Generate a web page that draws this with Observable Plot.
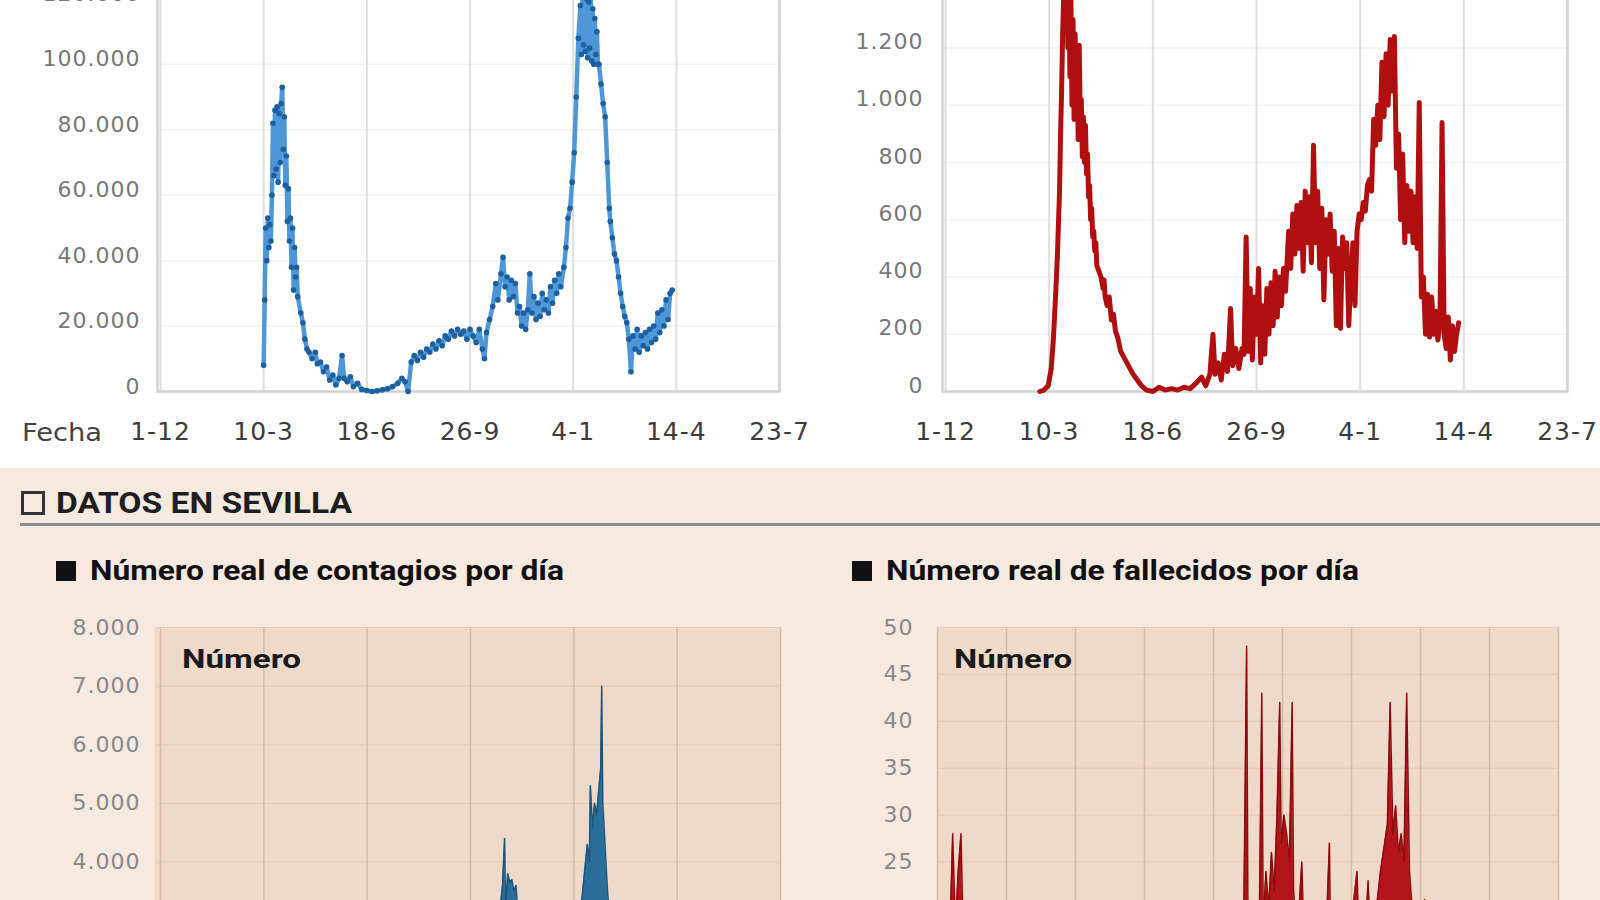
<!DOCTYPE html>
<html><head><meta charset="utf-8">
<script src="https://cdn.jsdelivr.net/npm/d3@7"></script>
<script src="https://cdn.jsdelivr.net/npm/@observablehq/plot@0.6"></script>
<style>
html,body{margin:0;padding:0;}
body{width:1600px;height:900px;overflow:hidden;background:#fff;position:relative;font-family:"DejaVu Sans",sans-serif;}
#sev{position:absolute;left:0;top:468px;width:1600px;height:432px;background:#f5e9e0;}
.lbl{position:absolute;white-space:nowrap;transform-origin:0 50%;line-height:1;}
.chart{position:absolute;}
.chart svg text{letter-spacing:1px;}
.box{position:absolute;box-sizing:border-box;}
</style></head><body>
<div id="sev"></div>
<div id="tl" class="chart" style="left:0;top:-80px"></div>
<div id="tr" class="chart" style="left:800px;top:-79px"></div>
<div id="bl" class="chart" style="left:0;top:600px"></div>
<div id="br" class="chart" style="left:800px;top:600px"></div>

<div class="lbl" data-w="80" data-cy="432" style="left:22px;font-size:25px;color:#444;">Fecha</div>
<div class="box" style="left:21px;top:491px;width:24px;height:24px;border:3px solid #333;"></div>
<div class="lbl" data-w="296" data-cy="502" style="left:56px;font:700 30px Roboto,sans-serif;color:#1e1e1e;">DATOS EN SEVILLA</div>
<div class="box" style="left:20px;top:523px;width:1580px;height:3px;background:#8c8c8c;"></div>
<div class="box" style="left:56px;top:561px;width:20px;height:20px;background:#111;"></div>
<div class="lbl" data-w="474" data-cy="571" style="left:90px;font:700 27px Roboto,sans-serif;color:#111;">Número real de contagios por día</div>
<div class="box" style="left:852px;top:561px;width:20px;height:20px;background:#111;"></div>
<div class="lbl" data-w="473" data-cy="571" style="left:886px;font:700 27px Roboto,sans-serif;color:#111;">Número real de fallecidos por día</div>
<div class="lbl" data-w="119" data-cy="659" style="left:182px;font:700 25px Roboto,sans-serif;color:#1a1a1a;">Número</div>
<div class="lbl" data-w="118" data-cy="659" style="left:954px;font:700 25px Roboto,sans-serif;color:#1a1a1a;">Número</div>

<script>
// ---------- DATA ----------
const xTickDates = ["2019-12-01","2020-03-10","2020-06-18","2020-09-26","2021-01-04","2021-04-14","2021-07-23"];
const sevMuertesTicks = ["2020-03-16","2020-05-05","2020-06-24","2020-08-13","2020-10-02","2020-11-21","2021-01-10","2021-03-01","2021-04-20","2021-06-09"];
const yTicksEspContagios = [0,20000,40000,60000,80000,100000,120000];
const yTicksEspMuertes = [0,200,400,600,800,1000,1200];
const yTicksSevContagios = [4000,5000,6000,7000,8000];
const yTicksSevMuertes = [20,25,30,35,40,45,50];

const espanaContagios = [
["2020-03-10",8000],["2020-03-11",28000],["2020-03-12",50000],["2020-03-13",40000],["2020-03-14",53000],["2020-03-15",44000],
["2020-03-16",51000],["2020-03-17",46000],["2020-03-18",60000],["2020-03-19",82000],["2020-03-20",66000],["2020-03-21",86000],
["2020-03-22",68000],["2020-03-23",87000],["2020-03-24",64000],["2020-03-25",85000],["2020-03-26",70000],["2020-03-27",88000],
["2020-03-28",93000],["2020-03-29",74000],["2020-03-30",84000],["2020-03-31",63000],["2020-04-01",72000],["2020-04-02",52000],
["2020-04-03",62000],["2020-04-04",46000],["2020-04-05",53000],["2020-04-06",38000],["2020-04-07",50000],["2020-04-08",31000],
["2020-04-09",44000],["2020-04-10",35000],["2020-04-11",38000],["2020-04-12",29000],["2020-04-15",24000],["2020-04-17",21000],
["2020-04-19",16000],["2020-04-21",13000],["2020-04-23",12000],["2020-04-26",10000],["2020-04-29",12000],["2020-05-01",8500],
["2020-05-04",9000],["2020-05-07",6000],["2020-05-10",7500],["2020-05-13",3500],["2020-05-16",5000],["2020-05-19",2000],
["2020-05-22",4000],["2020-05-25",11000],["2020-05-27",4000],["2020-05-30",3000],["2020-06-02",4500],["2020-06-05",1500],
["2020-06-09",2500],["2020-06-13",600],["2020-06-18",300],["2020-06-23",0],["2020-06-28",200],["2020-07-03",500],
["2020-07-08",800],["2020-07-13",1500],["2020-07-18",2500],["2020-07-22",4000],["2020-07-25",3000],["2020-07-28",0],
["2020-07-31",9000],["2020-08-03",11000],["2020-08-06",9500],["2020-08-09",12000],["2020-08-12",10500],["2020-08-15",13000],
["2020-08-18",12000],["2020-08-21",14500],["2020-08-24",13000],["2020-08-27",15500],["2020-08-30",14000],["2020-09-02",17000],
["2020-09-05",16000],["2020-09-08",18500],["2020-09-11",17000],["2020-09-14",19000],["2020-09-17",17500],["2020-09-20",18500],
["2020-09-23",16000],["2020-09-26",19000],["2020-09-29",17000],["2020-10-02",15000],["2020-10-05",19000],["2020-10-08",13000],
["2020-10-10",10000],["2020-10-12",18000],["2020-10-15",22000],["2020-10-18",26000],["2020-10-21",33000],["2020-10-23",28000],
["2020-10-26",36000],["2020-10-28",41000],["2020-10-30",32000],["2020-11-01",35000],["2020-11-03",28000],["2020-11-05",34000],
["2020-11-07",29000],["2020-11-09",33000],["2020-11-11",24000],["2020-11-13",26000],["2020-11-15",20000],["2020-11-17",24000],
["2020-11-19",19000],["2020-11-21",25000],["2020-11-23",36000],["2020-11-25",24000],["2020-11-27",29000],["2020-11-29",22000],
["2020-12-01",27000],["2020-12-03",23000],["2020-12-05",30000],["2020-12-07",25000],["2020-12-09",28000],["2020-12-11",24000],
["2020-12-13",32000],["2020-12-15",27000],["2020-12-17",34000],["2020-12-19",30000],["2020-12-21",36000],["2020-12-23",32000],
["2020-12-26",38000],["2020-12-28",44000],["2020-12-30",53000],["2021-01-01",56000],["2021-01-03",64000],["2021-01-05",73000],
["2021-01-07",90000],["2021-01-09",108000],["2021-01-11",118000],["2021-01-12",103000],["2021-01-13",121000],["2021-01-14",106000],
["2021-01-15",123000],["2021-01-16",104000],["2021-01-17",120000],["2021-01-18",102000],["2021-01-19",119000],["2021-01-20",105000],
["2021-01-21",122000],["2021-01-22",101000],["2021-01-23",117000],["2021-01-24",100000],["2021-01-25",114000],["2021-01-26",103000],
["2021-01-27",110000],["2021-01-28",100000],["2021-01-29",100000],["2021-01-31",94000],["2021-02-02",88000],["2021-02-04",84000],
["2021-02-06",70000],["2021-02-08",56000],["2021-02-09",52000],["2021-02-11",47000],["2021-02-13",42000],["2021-02-15",40000],
["2021-02-17",35000],["2021-02-19",30000],["2021-02-21",26000],["2021-02-23",23000],["2021-02-25",21000],["2021-02-27",16000],
["2021-03-01",6000],["2021-03-03",17000],["2021-03-05",13000],["2021-03-07",19000],["2021-03-09",12000],["2021-03-11",17000],
["2021-03-13",14000],["2021-03-15",18000],["2021-03-17",13000],["2021-03-19",19000],["2021-03-21",15000],["2021-03-23",20000],
["2021-03-25",16000],["2021-03-27",24000],["2021-03-29",18000],["2021-03-31",25000],["2021-04-02",20000],["2021-04-04",28000],
["2021-04-06",22000],["2021-04-08",30000],["2021-04-10",31000]
];

const espanaMuertes = [
["2020-03-01",0],["2020-03-05",5],["2020-03-09",20],["2020-03-12",80],["2020-03-14",180],["2020-03-16",320],["2020-03-18",480],
["2020-03-20",700],["2020-03-21",900],["2020-03-22",1050],["2020-03-23",1250],["2020-03-24",1380],["2020-03-25",1450],
["2020-03-26",1300],["2020-03-27",1500],["2020-03-28",1200],["2020-03-29",1420],["2020-03-30",1100],["2020-03-31",1380],
["2020-04-01",1000],["2020-04-02",1300],["2020-04-03",950],["2020-04-04",1250],["2020-04-05",1000],["2020-04-06",1150],
["2020-04-07",880],["2020-04-08",1210],["2020-04-09",950],["2020-04-10",1020],["2020-04-11",820],["2020-04-12",960],
["2020-04-13",800],["2020-04-14",930],["2020-04-15",760],["2020-04-16",830],["2020-04-17",680],["2020-04-18",720],["2020-04-19",600],
["2020-04-20",640],["2020-04-21",540],["2020-04-22",560],["2020-04-23",490],["2020-04-24",520],["2020-04-25",440],["2020-04-27",420],
["2020-04-29",400],["2020-05-01",360],["2020-05-02",390],["2020-05-03",330],["2020-05-05",300],["2020-05-07",330],["2020-05-09",250],
["2020-05-11",270],["2020-05-13",210],["2020-05-15",190],["2020-05-18",140],["2020-05-21",120],["2020-05-24",100],["2020-05-27",80],
["2020-05-30",60],["2020-06-03",40],["2020-06-07",20],["2020-06-12",5],["2020-06-18",0],["2020-06-24",15],["2020-06-30",5],
["2020-07-06",10],["2020-07-12",5],["2020-07-18",15],["2020-07-24",10],["2020-07-30",30],["2020-08-04",50],["2020-08-08",20],
["2020-08-12",60],["2020-08-15",200],["2020-08-17",60],["2020-08-20",100],["2020-08-23",40],["2020-08-26",130],["2020-08-29",70],
["2020-09-01",290],["2020-09-03",90],["2020-09-06",150],["2020-09-09",80],["2020-09-12",150],["2020-09-14",130],["2020-09-16",540],
["2020-09-18",140],["2020-09-20",360],["2020-09-22",110],["2020-09-24",330],["2020-09-26",200],["2020-09-28",430],["2020-09-30",100],
["2020-10-02",300],["2020-10-04",130],["2020-10-06",360],["2020-10-08",200],["2020-10-10",380],["2020-10-12",230],["2020-10-14",420],
["2020-10-16",260],["2020-10-18",400],["2020-10-20",300],["2020-10-22",430],["2020-10-24",350],["2020-10-27",560],["2020-10-29",430],
["2020-10-31",620],["2020-11-02",480],["2020-11-04",650],["2020-11-06",500],["2020-11-08",660],["2020-11-10",420],["2020-11-12",700],
["2020-11-14",520],["2020-11-16",680],["2020-11-18",450],["2020-11-20",860],["2020-11-22",520],["2020-11-24",700],["2020-11-26",430],
["2020-11-28",640],["2020-11-30",320],["2020-12-02",600],["2020-12-04",480],["2020-12-06",620],["2020-12-08",420],["2020-12-10",560],
["2020-12-12",230],["2020-12-14",500],["2020-12-16",220],["2020-12-18",540],["2020-12-20",430],["2020-12-22",520],["2020-12-24",230],
["2020-12-26",400],["2020-12-28",520],["2020-12-30",300],["2021-01-01",560],["2021-01-03",620],["2021-01-05",600],["2021-01-07",660],
["2021-01-09",630],["2021-01-11",720],["2021-01-13",740],["2021-01-15",700],["2021-01-17",950],["2021-01-19",860],["2021-01-21",1000],
["2021-01-23",880],["2021-01-25",1150],["2021-01-27",960],["2021-01-29",1180],["2021-01-31",1000],["2021-02-02",1230],
["2021-02-04",1050],["2021-02-06",1240],["2021-02-08",780],["2021-02-10",900],["2021-02-12",600],["2021-02-14",830],["2021-02-16",520],
["2021-02-18",720],["2021-02-20",560],["2021-02-22",700],["2021-02-24",520],["2021-02-26",680],["2021-02-28",500],["2021-03-02",1010],
["2021-03-04",330],["2021-03-06",400],["2021-03-08",200],["2021-03-10",340],["2021-03-12",190],["2021-03-14",330],["2021-03-16",200],
["2021-03-18",280],["2021-03-20",180],["2021-03-22",250],["2021-03-24",940],["2021-03-26",200],["2021-03-28",150],["2021-03-30",260],
["2021-04-01",110],["2021-04-03",230],["2021-04-05",140],["2021-04-07",200],["2021-04-09",240]
];

const sevillaContagios = [
["2020-03-10",300],["2020-03-15",900],["2020-03-20",1500],["2020-03-25",1800],["2020-03-30",1400],["2020-04-05",900],
["2020-04-15",500],["2020-04-30",200],["2020-05-20",80],["2020-06-20",30],["2020-07-20",60],["2020-08-10",300],["2020-08-30",600],
["2020-09-15",900],["2020-10-01",1400],["2020-10-10",2000],["2020-10-18",2600],["2020-10-24",3100],["2020-10-27",3600],
["2020-10-29",4400],["2020-10-30",3200],["2020-11-01",3800],["2020-11-03",3650],["2020-11-05",3700],["2020-11-07",3500],
["2020-11-09",3600],["2020-11-11",3100],["2020-11-15",2600],["2020-11-22",1900],["2020-12-01",1300],["2020-12-10",1000],
["2020-12-20",1200],["2020-12-28",1800],["2021-01-05",2600],["2021-01-12",3400],["2021-01-17",4300],["2021-01-19",4000],
["2021-01-20",5300],["2021-01-22",4600],["2021-01-24",5000],["2021-01-26",4800],["2021-01-28",5200],["2021-01-30",5600],
["2021-01-31",7000],["2021-02-01",5000],["2021-02-02",4700],["2021-02-04",4000],["2021-02-06",3400],["2021-02-10",2800],
["2021-02-20",1800],["2021-03-01",1000],["2021-03-15",800],["2021-04-01",900],["2021-04-10",1100]
];

const sevillaMuertes = [
["2020-03-20",4],["2020-03-24",12],["2020-03-27",28],["2020-03-29",18],["2020-03-31",24],["2020-04-02",28],["2020-04-04",15],
["2020-04-08",10],["2020-04-15",6],["2020-04-25",4],["2020-05-10",2],["2020-06-01",0],["2020-07-01",0],["2020-08-01",1],
["2020-08-20",2],["2020-09-10",4],["2020-09-25",6],["2020-10-05",8],["2020-10-15",12],["2020-10-22",15],["2020-10-24",20],
["2020-10-26",48],["2020-10-27",18],["2020-10-30",15],["2020-11-01",20],["2020-11-04",16],["2020-11-06",43],["2020-11-07",18],
["2020-11-09",24],["2020-11-11",20],["2020-11-13",26],["2020-11-15",22],["2020-11-17",30],["2020-11-19",42],["2020-11-20",27],
["2020-11-22",30],["2020-11-24",28],["2020-11-26",25],["2020-11-28",42],["2020-11-29",22],["2020-12-01",18],["2020-12-03",20],
["2020-12-05",25],["2020-12-07",14],["2020-12-10",16],["2020-12-14",19],["2020-12-18",12],["2020-12-22",15],["2020-12-25",27],
["2020-12-26",14],["2020-12-30",13],["2021-01-04",18],["2021-01-08",16],["2021-01-14",24],["2021-01-16",14],["2021-01-20",17],
["2021-01-22",23],["2021-01-24",16],["2021-01-28",20],["2021-01-31",24],["2021-02-03",27],["2021-02-05",29],["2021-02-07",42],
["2021-02-09",28],["2021-02-11",31],["2021-02-13",26],["2021-02-15",28],["2021-02-17",25],["2021-02-19",43],["2021-02-21",24],
["2021-02-24",18],["2021-02-28",14],["2021-03-04",21],["2021-03-06",10],["2021-03-12",8],["2021-03-20",6],["2021-04-01",5],
["2021-04-10",4]
];

// ---------- HELPERS ----------
const P = s => new Date(s + "T00:00:00Z");
const rows = arr => arr.map(([d, v]) => ({date: P(d), value: v}));
const esp = d3.formatLocale({decimal: ",", thousands: ".", grouping: [3], currency: ["", "€"]}).format(",d");
const dm = d3.utcFormat("%-d-%-m");
const xTicks = xTickDates.map(P);
const brTicks = sevMuertesTicks.map(P);
const baseStyle = {fontFamily: "DejaVu Sans", background: "transparent", overflow: "visible"};

// ---------- TOP LEFT ----------
const tlData = rows(espanaContagios);
document.getElementById("tl").append(Plot.plot({
  width: 800, height: 531, marginLeft: 157, marginRight: 21, marginTop: 13, marginBottom: 60, insetLeft: 3,
  style: baseStyle,
  x: {type: "utc", domain: [xTicks[0], xTicks[xTicks.length - 1]]},
  y: {domain: [0, 140000]},
  marks: [
    Plot.gridY(yTicksEspContagios, {stroke: "#f2f2f2", strokeOpacity: 1, strokeWidth: 1.5}),
    Plot.gridX(xTicks, {stroke: "#dedede", strokeOpacity: 1, strokeWidth: 2}),
    Plot.frame({stroke: "#d2d2d2", strokeWidth: 2.5}),
    Plot.axisY(yTicksEspContagios, {label: null, tickSize: 0, tickPadding: 17, tickFormat: esp, fontSize: 22, fill: "#777", dy: -5}),
    Plot.axisX(xTicks, {label: null, tickSize: 0, tickPadding: 31, tickFormat: dm, fontSize: 25, fill: "#3c3c3c"}),
    Plot.line(tlData, {x: "date", y: "value", stroke: "#4d97d8", strokeWidth: 4.5, strokeLinejoin: "round"}),
    Plot.dot(tlData, {x: "date", y: "value", r: 2.8, fill: "#1d5f9f"})
  ]
}));

// ---------- TOP RIGHT ----------
const trData = rows(espanaMuertes);
document.getElementById("tr").append(Plot.plot({
  width: 800, height: 530, marginLeft: 142, marginRight: 33, marginTop: 12, marginBottom: 60, insetLeft: 3,
  style: baseStyle,
  x: {type: "utc", domain: [xTicks[0], xTicks[xTicks.length - 1]]},
  y: {domain: [0, 1600]},
  marks: [
    Plot.gridY(yTicksEspMuertes, {stroke: "#f2f2f2", strokeOpacity: 1, strokeWidth: 1.5}),
    Plot.gridX(xTicks, {stroke: "#dedede", strokeOpacity: 1, strokeWidth: 2}),
    Plot.frame({stroke: "#d2d2d2", strokeWidth: 2.5}),
    Plot.axisY(yTicksEspMuertes, {label: null, tickSize: 0, tickPadding: 19, tickFormat: esp, fontSize: 22, fill: "#777", dy: -6}),
    Plot.axisX(xTicks, {label: null, tickSize: 0, tickPadding: 31, tickFormat: dm, fontSize: 25, fill: "#3c3c3c"}),
    Plot.line(trData, {x: "date", y: "value", stroke: "#b10f0f", strokeWidth: 5, strokeLinejoin: "round"})
  ]
}));

// ---------- BOTTOM LEFT ----------
const blData = rows(sevillaContagios);
document.getElementById("bl").append(Plot.plot({
  width: 800, height: 556, marginLeft: 157, marginRight: 20, marginTop: 27, marginBottom: 60, insetLeft: 3,
  style: baseStyle,
  x: {type: "utc", domain: [xTicks[0], xTicks[xTicks.length - 1]], axis: null},
  y: {domain: [0, 8000]},
  marks: [
    Plot.frame({fill: "#efd9c9", insetLeft: -3}),
    Plot.gridY(yTicksSevContagios, {stroke: "#e3c8b6", strokeOpacity: 1, strokeWidth: 1}),
    Plot.gridX(xTicks, {stroke: "#d6baa6", strokeOpacity: 1, strokeWidth: 1.5}),
    Plot.axisY(yTicksSevContagios, {label: null, tickSize: 0, tickPadding: 17, tickFormat: esp, fontSize: 22, fill: "#888"}),
    Plot.areaY(blData, {x: "date", y: "value", fill: "#2a6e9c"}),
    Plot.line(blData, {x: "date", y: "value", stroke: "#1b557d", strokeWidth: 1.5})
  ]
}));

// ---------- BOTTOM RIGHT ----------
const brData = rows(sevillaMuertes);
document.getElementById("br").append(Plot.plot({
  width: 800, height: 556, marginLeft: 137, marginRight: 42, marginTop: 27, marginBottom: 60,
  style: baseStyle,
  x: {type: "utc", domain: [brTicks[0], brTicks[brTicks.length - 1]], axis: null},
  y: {domain: [0, 50]},
  marks: [
    Plot.frame({fill: "#efd9c9"}),
    Plot.gridY(yTicksSevMuertes, {stroke: "#e3c8b6", strokeOpacity: 1, strokeWidth: 1}),
    Plot.gridX(brTicks, {stroke: "#d6baa6", strokeOpacity: 1, strokeWidth: 1.5}),
    Plot.axisY(yTicksSevMuertes, {label: null, tickSize: 0, tickPadding: 24, tickFormat: esp, fontSize: 22, fill: "#888"}),
    Plot.areaY(brData, {x: "date", y: "value", fill: "#b3141a"}),
    Plot.line(brData, {x: "date", y: "value", stroke: "#8c0b0b", strokeWidth: 1.5})
  ]
}));

// ---------- fit HTML labels ----------
function fit() {
  document.querySelectorAll(".lbl").forEach(el => {
    el.style.transform = "none";
    const r = el.getBoundingClientRect();
    el.style.transform = `scaleX(${(+el.dataset.w) / r.width})`;
    el.style.top = (+el.dataset.cy - r.height / 2) + "px";
  });
}
fit();
if (document.fonts && document.fonts.ready) document.fonts.ready.then(fit);
</script>
</body></html>
